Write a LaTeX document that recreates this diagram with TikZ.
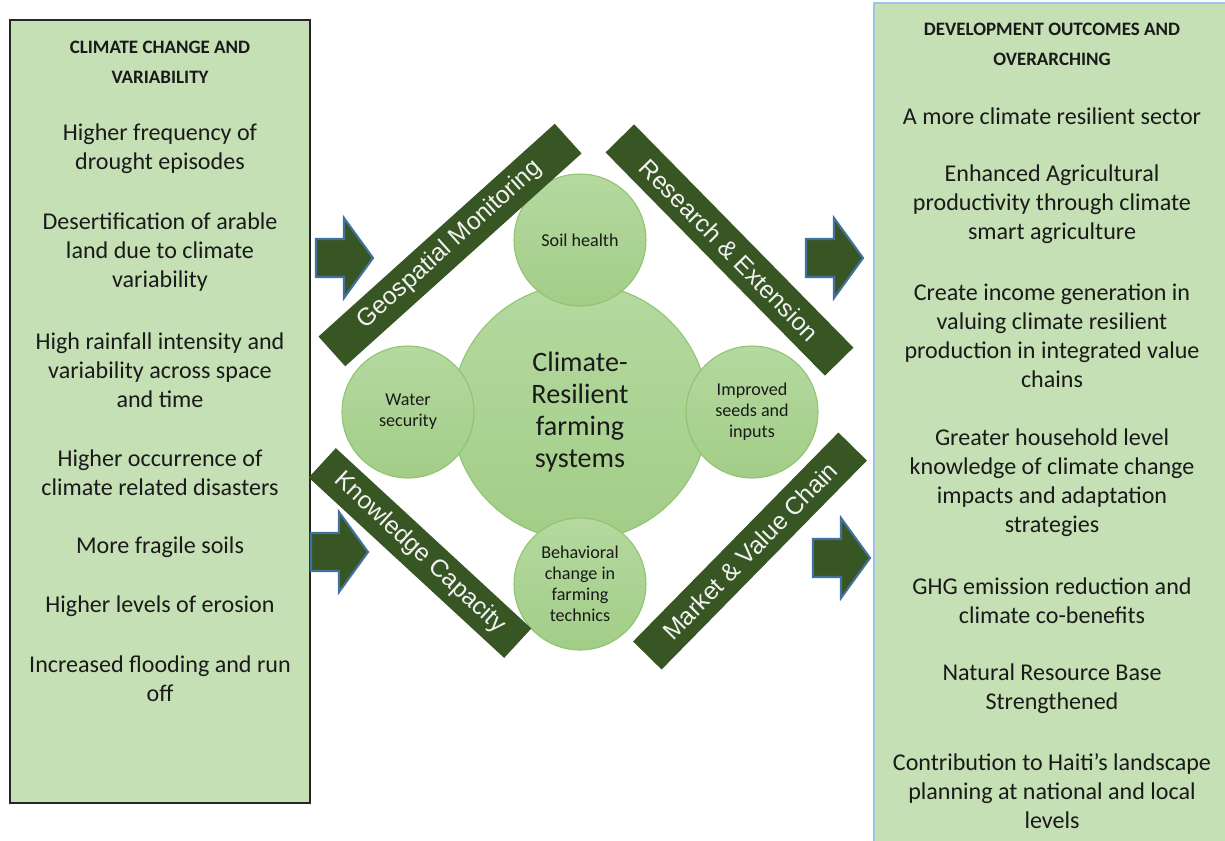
\documentclass[tikz,border=0pt]{standalone}
\usepackage{fontspec}
\setmainfont{Carlito}
\newfontfamily\arialfont{Liberation Sans}
\newlength\pxu
\setlength\pxu{0.02cm}
\definecolor{boxgreen}{HTML}{C5E0B4}
\definecolor{darkgreen}{HTML}{375623}
\definecolor{arrowblue}{HTML}{41719C}
\definecolor{panelblue}{HTML}{9DC3E6}
\definecolor{circline}{HTML}{8DC46E}
\definecolor{circtop}{HTML}{B5D9A0}
\definecolor{circbot}{HTML}{A2CD87}
\definecolor{txt}{HTML}{1A1A1A}
\newcommand\drawblockarrow[1]{\draw[blockarrow] (#1) ++(-57,-19) -- ++(28,0) -- ++(0,-21) -- ++(29,40) -- ++(-29,40) -- ++(0,-21) -- ++(-28,0) -- cycle;}
\begin{document}
\begin{tikzpicture}[x=0.02cm, y=-0.02cm,
  item/.style={align=center, text=txt, inner sep=0, font=\fontsize{13.7}{16.5}\selectfont},
  head/.style={align=center, text=txt, inner sep=0, font=\bfseries\fontsize{10.8}{17}\selectfont},
  bigc/.style={circle, minimum size=256\pxu, inner sep=0, draw=circline, line width=0.6pt,
    top color=circtop, bottom color=circbot, align=center, text=txt, font=\fontsize{16}{18.4}\selectfont},
  smallc/.style={circle, minimum size=132\pxu, inner sep=0, draw=circline, line width=0.6pt,
    top color=circtop, bottom color=circbot, align=center, text=txt, font=\fontsize{10.3}{12}\selectfont},
  band/.style={rectangle, fill=darkgreen, minimum height=40\pxu, inner sep=0,
    text=white!95!black, font=\arialfont\fontsize{14}{16}\selectfont},
  blockarrow/.style={fill=darkgreen, draw=arrowblue, line width=1.2pt, line join=miter}]
\useasboundingbox (0,0) rectangle (1225,840);
% panels
\draw[fill=boxgreen, draw=black!85, line width=0.9pt] (10,20) rectangle (310,803);
\draw[fill=boxgreen, draw=panelblue, line width=0.9pt] (874,3) rectangle (1228,845);
% left panel text
\node[head] (lh) at (160,62.5) {CLIMATE CHANGE AND\\VARIABILITY};
\node[item] (l1) at (160,149) {Higher frequency of\\drought episodes};
\node[item] (l2) at (160,252.5) {Desertification of arable\\land due to climate\\variability};
\node[item] (l3) at (160,370) {High rainfall intensity and\\variability across space\\and time};
\node[item] (l4) at (160,473) {Higher occurrence of\\climate related disasters};
\node[item] (l5) at (160,547) {More fragile soils};
\node[item] (l6) at (160,606) {Higher levels of erosion};
\node[item] (l7) at (160,678.5) {Increased flooding and run\\off};
% right panel text
\node[head] (rh) at (1052,44) {DEVELOPMENT OUTCOMES AND\\OVERARCHING};
\node[item] (r1) at (1052,116) {A more climate resilient sector};
\node[item] (r2) at (1052,204) {Enhanced Agricultural\\productivity through climate\\smart agriculture};
\node[item] (r3) at (1052,336) {Create income generation in\\valuing climate resilient\\production in integrated value\\chains};
\node[item] (r4) at (1052,482.5) {Greater household level\\knowledge of climate change\\impacts and adaptation\\strategies};
\node[item] (r5) at (1052,600.5) {GHG emission reduction and\\climate co-benefits};
\node[item] (r6) at (1052,688.5) {Natural Resource Base\\Strengthened};
\node[item] (r7) at (1052,791) {Contribution to Haiti’s landscape\\planning at national and local\\levels};
% circles
\node[bigc] (core) at (580,412) {Climate-\\Resilient\\farming\\systems};
\node[smallc] (soil) at (580,240) {Soil health};
\node[smallc] (water) at (408,412) {Water\\security};
\node[smallc] (seeds) at (752,412) {Improved\\seeds and\\inputs};
\node[smallc] (behav) at (580,584) {Behavioral\\change in\\farming\\technics};
% bands
\node[band, rotate=42, minimum width=318\pxu] (geo) at (450,245) {Geospatial Monitoring};
\node[band, rotate=-45.5, minimum width=313\pxu] (res) at (729.5,250) {Research \& Extension};
\node[band, rotate=-42.7, minimum width=266\pxu] (know) at (420,553) {Knowledge Capacity};
\node[band, rotate=45.5, minimum width=293\pxu] (mkt) at (750,551) {Market \& Value Chain};
% block arrows
\coordinate (a1) at (373,258);
\coordinate (a2) at (863,258);
\coordinate (a3) at (368,552);
\coordinate (a4) at (870,558);
\drawblockarrow{a1}
\drawblockarrow{a2}
\drawblockarrow{a3}
\drawblockarrow{a4}
\end{tikzpicture}
\end{document}
